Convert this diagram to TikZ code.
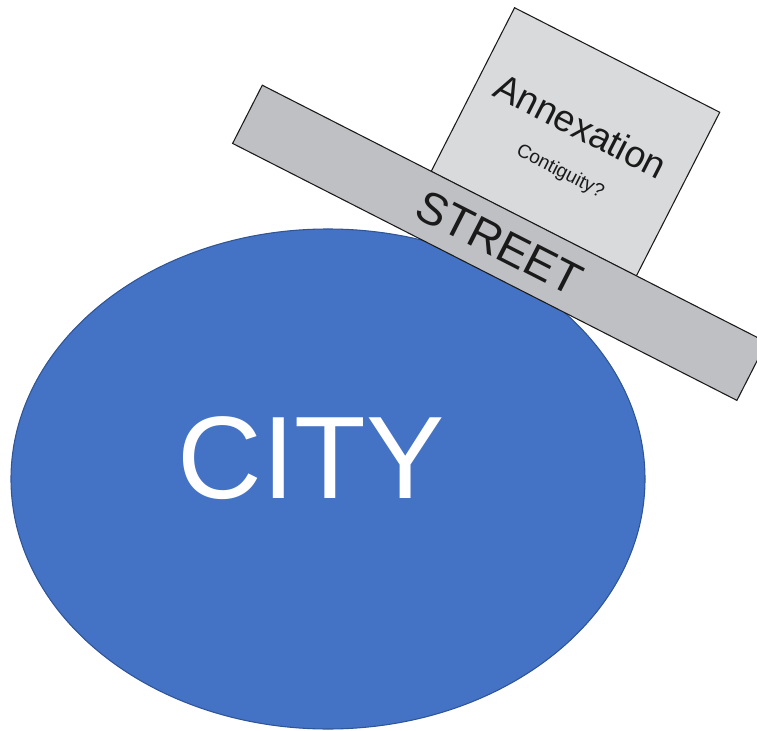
\documentclass[tikz,border=0pt]{standalone}
\usepackage{fontspec}
\setmainfont{Liberation Sans}
\definecolor{cityblue}{HTML}{4472C4}
\definecolor{cityedge}{HTML}{2F5597}
\definecolor{streetgray}{HTML}{BFC0C4}
\definecolor{lotgray}{HTML}{D9DADC}
\definecolor{inkgray}{HTML}{1A1A1A}
\tikzset{
    road/.style={draw=inkgray, line width=0.8pt, fill=streetgray, rotate=-27,
        minimum width=424.5pt, minimum height=49pt, inner sep=0pt, text=inkgray},
    lot/.style={draw=inkgray, line width=0.8pt, fill=lotgray, rotate=-27,
        minimum width=172.7pt, minimum height=137.8pt, inner sep=0pt},
    tilted/.style={rotate=-27, inner sep=0pt, text=inkgray}
}
\begin{document}
\begin{tikzpicture}[x=0.75pt, y=-0.75pt]
    \useasboundingbox (0,0) rectangle (757,731);

        \filldraw[fill=cityblue, draw=cityedge, line width=0.8pt] (328,479) ellipse [x radius=317, y radius=250];
        \node[white, inner sep=0pt, font=\fontsize{88}{90}\selectfont] (city) at (311,458) {CITY};

        \node[lot, anchor=south] (annex) at (533.5,224.2) {};
        \node[tilted, font=\fontsize{28}{30}\selectfont] (annexlabel) at (581,126) {Annexation};
        \node[tilted, font=\fontsize{14.3}{16}\selectfont] (contiglabel) at (560,172) {Contiguity?};

        \node[road, font=\fontsize{34}{36}\selectfont] (street) at (499.6,242.8) {STREET};
\end{tikzpicture}
\end{document}
